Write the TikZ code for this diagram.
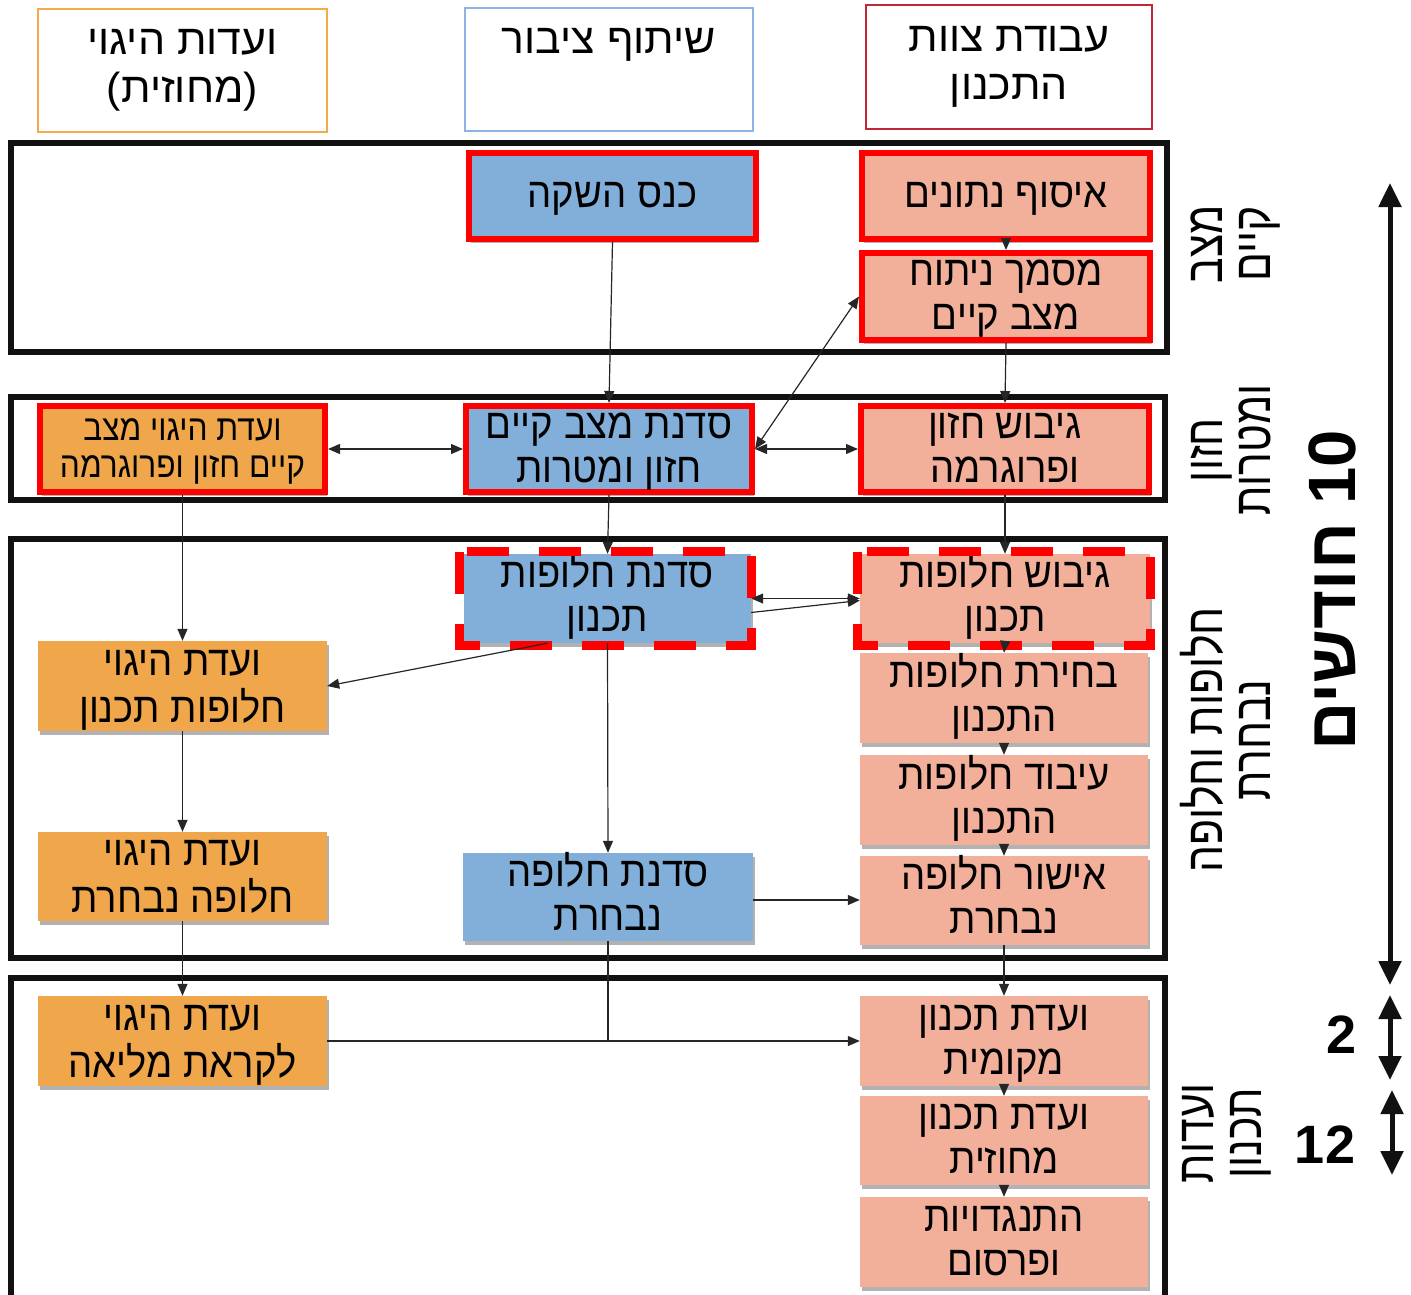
\documentclass[tikz,border=0pt]{standalone}
\usepackage{fontspec}
\setmainfont{Liberation Sans}
\newfontfamily\hebbox{Liberation Sans}[Script=Hebrew,FakeStretch=0.91]
\newfontfamily\hebsmall{Liberation Sans}[Script=Hebrew,FakeStretch=0.88]
\newfontfamily\hebhdr{Liberation Sans}[Script=Hebrew,FakeStretch=1.02]
\newfontfamily\hebside{Liberation Sans}[Script=Hebrew,FakeStretch=0.82]
\newfontfamily\hebbold{Liberation Sans}[Script=Hebrew]
\TeXXeTstate=1
\newcommand{\hb}[1]{\beginR #1\endR}
\newcommand{\twol}[2]{\begin{tabular}[t]{@{}c@{}}\hb{#1}\\\hb{#2}\end{tabular}}
\usetikzlibrary{arrows.meta,shadows}
\definecolor{bluefill}{HTML}{82AFD9}
\definecolor{salmon}{HTML}{F2B09A}
\definecolor{orangefill}{HTML}{F0A64A}
\definecolor{hdrorange}{HTML}{F4A94B}
\definecolor{hdrblue}{HTML}{8DB4E2}
\definecolor{hdrred}{HTML}{C0273A}
\definecolor{framec}{HTML}{111111}
\begin{document}
\begin{tikzpicture}[x=1pt,y=-1pt,
  box/.style={rectangle, inner sep=0pt, text=black,
    font=\hebbox\fontsize{42}{44}\selectfont, text height=10pt, text depth=32pt,
    drop shadow={shadow xshift=2pt, shadow yshift=-4pt, opacity=0.3, fill=black}},
  oneline/.style={text height=22pt, text depth=0pt},
  smallbox/.style={font=\hebsmall\fontsize{36}{37}\selectfont, text height=8pt, text depth=26pt},
  redb/.style={draw=red, line width=6pt},
  redd/.style={draw=red, line width=9pt, dash pattern=on 42pt off 30pt},
  bluebox/.style={box, fill=bluefill},
  salbox/.style={box, fill=salmon},
  orbox/.style={box, fill=orangefill},
  hdr/.style={rectangle, inner sep=0pt, line width=2.5pt},
  htext/.style={inner sep=0pt, anchor=base, font=\hebhdr\fontsize{42}{48}\selectfont},
  frame/.style={draw=framec, line width=6pt},
  side/.style={inner sep=0pt, anchor=base, rotate=90, font=\hebside\fontsize{52}{48}\selectfont},
  conn/.style={draw=black!85, line width=1.2pt, -{Triangle[length=12pt,width=10pt]}},
  conn2/.style={draw=black!85, line width=1.2pt, {Triangle[length=12pt,width=10pt]}-{Triangle[length=12pt,width=10pt]}},
  plain/.style={draw=black!85, line width=1.2pt},
  bigarrow/.style={draw=framec, line width=5pt, {Triangle[length=24pt,width=22pt]}-{Triangle[length=24pt,width=22pt]}}
]
\useasboundingbox (0,0) rectangle (1411,1295);
\clip (0,0) rectangle (1411,1295);

% header boxes
\node[hdr, draw=hdrorange, minimum width=289pt, minimum height=123pt] (h1) at (182.5,70.5) {};
\node[hdr, draw=hdrblue, minimum width=288pt, minimum height=123pt] (h2) at (609,69.5) {};
\node[hdr, draw=hdrred, minimum width=286pt, minimum height=124pt] (h3) at (1009,67) {};
\node[htext] (h1t) at (182.5,55) {\twol{ועדות היגוי}{(מחוזית)}};
\node[htext] (h2t) at (609,54) {\hb{שיתוף ציבור}};
\node[htext] (h3t) at (1009,52) {\twol{עבודת צוות}{התכנון}};

% phase frames
\draw[frame] (11,143) rectangle (1167,352);
\draw[frame] (11,397) rectangle (1165,500);
\draw[frame] (11,539) rectangle (1165,958);
\draw[frame] (11,978) rectangle (1165,1310);

% phase 1
\node[bluebox, oneline, redb, minimum width=287pt, minimum height=86pt] (kenes) at (612.5,196) {\hb{כנס השקה}};
\node[salbox, oneline, redb, minimum width=288pt, minimum height=86pt] (isuf) at (1006,196) {\hb{איסוף נתונים}};
\node[salbox, redb, minimum width=288pt, minimum height=87pt] (mismach) at (1006,296.5) {\twol{מסמך ניתוח}{מצב קיים}};

% phase 2
\node[orbox, smallbox, redb, minimum width=285pt, minimum height=86pt] (vh1) at (182.5,449) {\twol{ועדת היגוי מצב}{קיים חזון ופרוגרמה}};
\node[bluebox, redb, minimum width=286pt, minimum height=86pt] (sadna1) at (609,449) {\twol{סדנת מצב קיים}{חזון ומטרות}};
\node[salbox, redb, minimum width=288pt, minimum height=86pt] (gibush1) at (1005,449) {\twol{גיבוש חזון}{ופרוגרמה}};

% phase 3
\node[bluebox, minimum width=287pt, minimum height=89pt] (sadna2) at (607.5,598.5) {\twol{סדנת חלופות}{תכנון}};
\draw[redd] ([xshift=-4pt,yshift=2pt]sadna2.north west) rectangle ([yshift=-2pt]sadna2.south east);
\node[salbox, minimum width=290pt, minimum height=89pt] (gibush2) at (1005,598.5) {\twol{גיבוש חלופות}{תכנון}};
\draw[redd] ([xshift=-2pt,yshift=2pt]gibush2.north west) rectangle ([yshift=-2pt]gibush2.south east);
\node[salbox, minimum width=288pt, minimum height=90pt] (bchira) at (1004,698) {\twol{בחירת חלופות}{התכנון}};
\node[salbox, minimum width=288pt, minimum height=90pt] (ibud) at (1004,800) {\twol{עיבוד חלופות}{התכנון}};
\node[salbox, minimum width=288pt, minimum height=89pt] (ishur) at (1004,900.5) {\twol{אישור חלופה}{נבחרת}};
\node[orbox, minimum width=289pt, minimum height=90pt] (vh2) at (182.5,686) {\twol{ועדת היגוי}{חלופות תכנון}};
\node[orbox, minimum width=289pt, minimum height=89pt] (vh3) at (182.5,876.5) {\twol{ועדת היגוי}{חלופה נבחרת}};
\node[bluebox, minimum width=290pt, minimum height=88pt] (sadna3) at (608,897) {\twol{סדנת חלופה}{נבחרת}};

% phase 4
\node[orbox, minimum width=289pt, minimum height=90pt] (vh4) at (182.5,1041) {\twol{ועדת היגוי}{לקראת מליאה}};
\node[salbox, minimum width=288pt, minimum height=90pt] (mekomit) at (1004,1041) {\twol{ועדת תכנון}{מקומית}};
\node[salbox, minimum width=288pt, minimum height=89pt] (mechozit) at (1004,1140.5) {\twol{ועדת תכנון}{מחוזית}};
\node[salbox, minimum width=288pt, minimum height=90pt] (hitnag) at (1004,1242) {\twol{התנגדויות}{ופרסום}};

% connectors
\draw[conn] (kenes.south) -- (sadna1.north);
\draw[conn] (isuf.south) -- (mismach.north);
\draw[conn] (mismach.south) -- (gibush1.north);
\draw[conn2] (sadna1.east) -- (mismach.west);
\draw[conn2] (sadna1.east) -- (gibush1.west);
\draw[conn2] (vh1.east) -- (sadna1.west);
\draw[conn] (vh1.south) -- (vh2.north);
\draw[conn] (sadna1.south) -- (sadna2.north);
\draw[conn] (gibush1.south) -- (gibush2.north);
\draw[conn2] (sadna2.east) -- (gibush2.west);
\draw[conn] ([yshift=-14pt]sadna2.east) -- ([yshift=-2pt]gibush2.west);
\draw[conn] ([xshift=-60pt]sadna2.south) -- (vh2.east);
\draw[conn] (sadna2.south) -- (sadna3.north);
\draw[conn] (vh2.south) -- (vh3.north);
\draw[conn] (gibush2.south) -- (bchira.north);
\draw[conn] (bchira.south) -- (ibud.north);
\draw[conn] (ibud.south) -- (ishur.north);
\draw[conn] ([yshift=-3pt]sadna3.east) -- ([yshift=-3pt]sadna3.east -| ishur.west);
\draw[conn] (vh3.south) -- (vh4.north);
\draw[conn] (ishur.south) -- (mekomit.north);
\draw[conn] (vh4.east) -- (mekomit.west);
\draw[plain] (sadna3.south) -- (sadna3.south |- vh4.east);
\draw[conn] (mekomit.south) -- (mechozit.north);
\draw[conn] (mechozit.south) -- (hitnag.north);

% side labels
\node[side] (l1) at (1222,244) {\twol{מצב}{קיים}};
\node[side] (l2) at (1222,450) {\twol{חזון}{ומטרות}};
\node[side] (l3) at (1222,740) {\twol{חלופות וחלופה}{נבחרת}};
\node[side] (l4) at (1213,1133) {\twol{ועדות}{תכנון}};
\node[rotate=90, inner sep=0pt, anchor=base, font=\hebbold\bfseries\fontsize{67}{67}\selectfont] (m10) at (1355,590) {\hb{10 חודשים}};
\node[inner sep=0pt, font=\hebbold\bfseries\fontsize{54}{54}\selectfont] (m2) at (1342,1035) {2};
\node[inner sep=0pt, font=\hebbold\bfseries\fontsize{54}{54}\selectfont] (m12) at (1325,1145) {12};

% duration arrows
\coordinate (a1) at (1390,183);
\coordinate (a2) at (1390,985);
\coordinate (b1) at (1390,995);
\coordinate (b2) at (1390,1080);
\coordinate (c1) at (1392,1090);
\coordinate (c2) at (1392,1175);
\draw[bigarrow] (a1) -- (a2);
\draw[bigarrow] (b1) -- (b2);
\draw[bigarrow] (c1) -- (c2);
\end{tikzpicture}
\end{document}
